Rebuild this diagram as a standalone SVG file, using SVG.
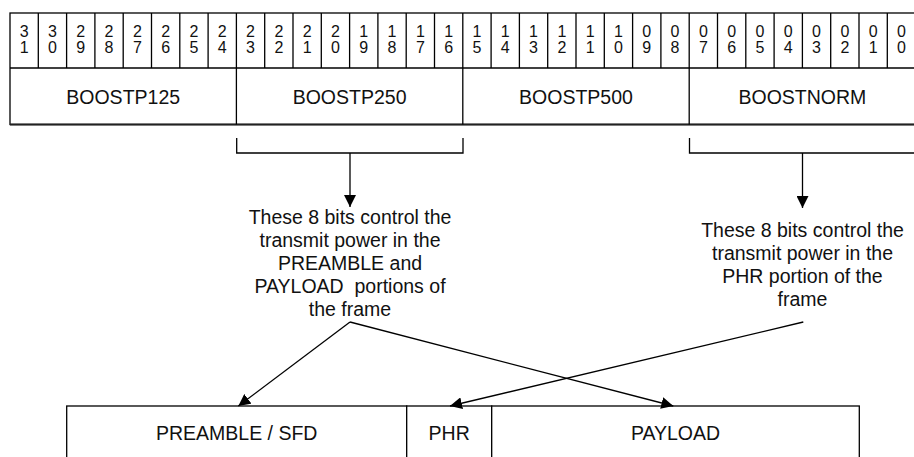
<svg xmlns="http://www.w3.org/2000/svg" width="914" height="457" viewBox="0 0 914 457">
<defs>
<style>
.ln{stroke:#000;stroke-width:1.3;fill:none}
.box{stroke:#000;stroke-width:1.3;fill:#fff}
.d{font-family:"Liberation Sans",Arial,sans-serif;font-size:16px;fill:#111;text-anchor:middle}
.t{font-family:"Liberation Sans",Arial,sans-serif;font-size:19.5px;fill:#111;text-anchor:middle}
.c{stroke:#000;stroke-width:1.3;fill:none;marker-end:url(#ah)}
</style>
<marker id="ah" markerUnits="userSpaceOnUse" markerWidth="12" markerHeight="12" viewBox="0 0 10 10" refX="10" refY="5" orient="auto">
<path d="M0,0 L10,5 L0,10 z" fill="#000"/>
</marker>
</defs>
<rect width="914" height="457" fill="#fff"/>
<g id="register">
<rect class="box" x="10" y="13" width="905.6" height="111.5"/>
<line class="ln" x1="10" y1="68" x2="915.6" y2="68"/>
<path class="ln" d="M38.3,13V68M66.6,13V68M94.9,13V68M123.2,13V68M151.5,13V68M179.8,13V68M208.1,13V68M236.4,13V68M264.7,13V68M293,13V68M321.3,13V68M349.6,13V68M377.9,13V68M406.2,13V68M434.5,13V68M462.8,13V68M491.1,13V68M519.4,13V68M547.7,13V68M576,13V68M604.3,13V68M632.6,13V68M660.9,13V68M689.2,13V68M717.5,13V68M745.8,13V68M774.1,13V68M802.4,13V68M830.7,13V68M859,13V68M887.3,13V68"/>
<line x1="10" y1="124.5" x2="914" y2="124.5" stroke="#222" stroke-width="2"/>
<text class="d" x="24.15" y="37">3<tspan x="24.15" dy="16">1</tspan></text>
<text class="d" x="52.45" y="37">3<tspan x="52.45" dy="16">0</tspan></text>
<text class="d" x="80.75" y="37">2<tspan x="80.75" dy="16">9</tspan></text>
<text class="d" x="109.05" y="37">2<tspan x="109.05" dy="16">8</tspan></text>
<text class="d" x="137.35" y="37">2<tspan x="137.35" dy="16">7</tspan></text>
<text class="d" x="165.65" y="37">2<tspan x="165.65" dy="16">6</tspan></text>
<text class="d" x="193.95" y="37">2<tspan x="193.95" dy="16">5</tspan></text>
<text class="d" x="222.25" y="37">2<tspan x="222.25" dy="16">4</tspan></text>
<text class="d" x="250.55" y="37">2<tspan x="250.55" dy="16">3</tspan></text>
<text class="d" x="278.85" y="37">2<tspan x="278.85" dy="16">2</tspan></text>
<text class="d" x="307.15" y="37">2<tspan x="307.15" dy="16">1</tspan></text>
<text class="d" x="335.45" y="37">2<tspan x="335.45" dy="16">0</tspan></text>
<text class="d" x="363.75" y="37">1<tspan x="363.75" dy="16">9</tspan></text>
<text class="d" x="392.05" y="37">1<tspan x="392.05" dy="16">8</tspan></text>
<text class="d" x="420.35" y="37">1<tspan x="420.35" dy="16">7</tspan></text>
<text class="d" x="448.65" y="37">1<tspan x="448.65" dy="16">6</tspan></text>
<text class="d" x="476.95" y="37">1<tspan x="476.95" dy="16">5</tspan></text>
<text class="d" x="505.25" y="37">1<tspan x="505.25" dy="16">4</tspan></text>
<text class="d" x="533.55" y="37">1<tspan x="533.55" dy="16">3</tspan></text>
<text class="d" x="561.85" y="37">1<tspan x="561.85" dy="16">2</tspan></text>
<text class="d" x="590.15" y="37">1<tspan x="590.15" dy="16">1</tspan></text>
<text class="d" x="618.45" y="37">1<tspan x="618.45" dy="16">0</tspan></text>
<text class="d" x="646.75" y="37">0<tspan x="646.75" dy="16">9</tspan></text>
<text class="d" x="675.05" y="37">0<tspan x="675.05" dy="16">8</tspan></text>
<text class="d" x="703.35" y="37">0<tspan x="703.35" dy="16">7</tspan></text>
<text class="d" x="731.65" y="37">0<tspan x="731.65" dy="16">6</tspan></text>
<text class="d" x="759.95" y="37">0<tspan x="759.95" dy="16">5</tspan></text>
<text class="d" x="788.25" y="37">0<tspan x="788.25" dy="16">4</tspan></text>
<text class="d" x="816.55" y="37">0<tspan x="816.55" dy="16">3</tspan></text>
<text class="d" x="844.85" y="37">0<tspan x="844.85" dy="16">2</tspan></text>
<text class="d" x="873.15" y="37">0<tspan x="873.15" dy="16">1</tspan></text>
<text class="d" x="901.45" y="37">0<tspan x="901.45" dy="16">0</tspan></text>
</g>
<g id="boostp125"><text class="t" x="123.2" y="103.5">BOOSTP125</text></g>
<g id="boostp250"><line class="ln" x1="236.4" y1="68" x2="236.4" y2="124.5"/><text class="t" x="349.6" y="103.5">BOOSTP250</text></g>
<g id="boostp500"><line class="ln" x1="462.8" y1="68" x2="462.8" y2="124.5"/><text class="t" x="576" y="103.5">BOOSTP500</text></g>
<g id="boostnorm"><line class="ln" x1="689.2" y1="68" x2="689.2" y2="124.5"/><text class="t" x="802.4" y="103.5">BOOSTNORM</text></g>
<g id="note1">
<text class="t" x="350" y="224">These 8 bits control the<tspan x="350" dy="23">transmit power in the</tspan><tspan x="350" dy="23">PREAMBLE and</tspan><tspan x="350" dy="23" xml:space="preserve">PAYLOAD  portions of</tspan><tspan x="350" dy="23">the frame</tspan></text>
</g>
<g id="note2">
<text class="t" x="802.5" y="237">These 8 bits control the<tspan x="802.5" dy="23">transmit power in the</tspan><tspan x="802.5" dy="23">PHR portion of the</tspan><tspan x="802.5" dy="23">frame</tspan></text>
</g>
<g id="preamble"><rect class="box" x="66.7" y="406" width="340" height="70"/><text class="t" x="236.7" y="439.5">PREAMBLE / SFD</text></g>
<g id="phr"><rect class="box" x="406.7" y="406" width="85" height="70"/><text class="t" x="449.2" y="439.5">PHR</text></g>
<g id="payload"><rect class="box" x="491.7" y="406" width="367.6" height="70"/><text class="t" x="675.5" y="439.5">PAYLOAD</text></g>
<g id="connectors">
<path class="ln" d="M236.7,138V153H463V138"/>
<path class="ln" d="M689.5,138V153H914"/>
<path class="c" d="M350,153V207"/>
<path class="c" d="M802.5,153V208"/>
<path class="c" d="M350,322L238.3,406"/>
<path class="c" d="M350,322L673.3,406"/>
<path class="c" d="M803.3,322L450,406"/>
</g>
</svg>
